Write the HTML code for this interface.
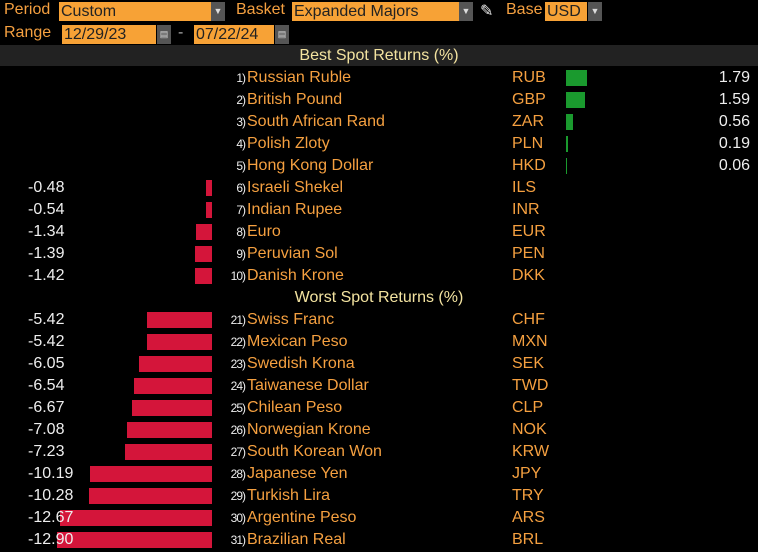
<!DOCTYPE html>
<html><head><meta charset="utf-8">
<style>
body{margin:0;background:#000;width:758px;height:552px;overflow:hidden;position:relative;font-family:"Liberation Sans Narrow","Liberation Sans",sans-serif;font-size:16px;}
.a{position:absolute;white-space:nowrap;}
.lab{color:#f5a040;}
.fld{background:#f7a236;color:#222;height:19px;line-height:19px;padding-left:2px;}
.dd{background:#555;color:#ddd;width:14px;height:19px;line-height:19px;text-align:center;font-size:9px;}
</style></head><body>
<div class="a lab" style="left:4px;top:1px">Period</div>
<div class="a fld" style="left:59px;top:2px;width:150px">Custom</div>
<div class="a dd" style="left:211px;top:2px">▼</div>
<div class="a lab" style="left:236px;top:1px">Basket</div>
<div class="a fld" style="left:292px;top:2px;width:165px">Expanded Majors</div>
<div class="a dd" style="left:459px;top:2px">▼</div>
<div class="a" style="left:480px;top:1px;color:#eee">✎</div>
<div class="a lab" style="left:506px;top:1px">Base</div>
<div class="a fld" style="left:545px;top:2px;width:40px">USD</div>
<div class="a dd" style="left:588px;top:2px">▼</div>
<div class="a lab" style="left:4px;top:24px">Range</div>
<div class="a fld" style="left:62px;top:25px;width:92px">12/29/23</div>
<div class="a dd" style="left:157px;top:25px">▤</div>
<div class="a" style="left:178px;top:24px;color:#aaa">-</div>
<div class="a fld" style="left:194px;top:25px;width:78px">07/22/24</div>
<div class="a dd" style="left:275px;top:25px">▤</div>
<div class="a" style="left:0;top:45px;width:758px;height:21px;background:#222"></div>
<div class="a" style="left:0;top:45px;width:758px;text-align:center;color:#f3e3a0;line-height:21px">Best Spot Returns (%)</div>
<div class="a" style="left:0;top:287px;width:758px;text-align:center;color:#f3e3a0;line-height:21px">Worst Spot Returns (%)</div>
<div id="rows"></div>
<script>
const ranks=[1,2,3,4,5,6,7,8,9,10,21,22,23,24,25,26,27,28,29,30,31];
const names=["Russian Ruble","British Pound","South African Rand","Polish Zloty","Hong Kong Dollar","Israeli Shekel","Indian Rupee","Euro","Peruvian Sol","Danish Krone","Swiss Franc","Mexican Peso","Swedish Krona","Taiwanese Dollar","Chilean Peso","Norwegian Krone","South Korean Won","Japanese Yen","Turkish Lira","Argentine Peso","Brazilian Real"];
const codes=["RUB","GBP","ZAR","PLN","HKD","ILS","INR","EUR","PEN","DKK","CHF","MXN","SEK","TWD","CLP","NOK","KRW","JPY","TRY","ARS","BRL"];
const values=[1.79,1.59,0.56,0.19,0.06,-0.48,-0.54,-1.34,-1.39,-1.42,-5.42,-5.42,-6.05,-6.54,-6.67,-7.08,-7.23,-10.19,-10.28,-12.67,-12.90];
const root=document.getElementById('rows');
const negX=v=>212+v*12, posX=v=>566+v*12;
function mk(cls,style,txt){const d=document.createElement('div');d.className='a '+cls;d.style.cssText=style;d.textContent=txt;root.appendChild(d);return d;}
values.forEach((v,i)=>{
  const top=(i<10?67+i*22:309+(i-10)*22);
  if(v<0){
    const x=negX(v);
    const b=mk('',`left:${x}px;top:${top+3}px;width:${212-x}px;height:16px;background:#d4153a`,'');
    
    
    const t=mk('',`left:28px;top:${top}px;color:#eee;line-height:22px`,v.toFixed(2));
    
    
  } else {
    const w=Math.max(1,posX(v)-566);
    const b=mk('',`left:566px;top:${top+3}px;width:${w}px;height:16px;background:#1a9a2e`,'');
    
    
    const t=mk('',`right:8px;top:${top}px;color:#eee;line-height:22px`,v.toFixed(2));
    
    
  }
  const r=mk('',`right:${758-245}px;top:${top}px;color:#eee;line-height:22px;font-size:12px;letter-spacing:-1px`,ranks[i]+')');
  
  
  const n=mk('lab',`left:247px;top:${top}px;line-height:22px`,names[i]);
  
  
  const c=mk('lab',`left:512px;top:${top}px;line-height:22px`,codes[i]);
  
  
});
</script>
</body></html>
